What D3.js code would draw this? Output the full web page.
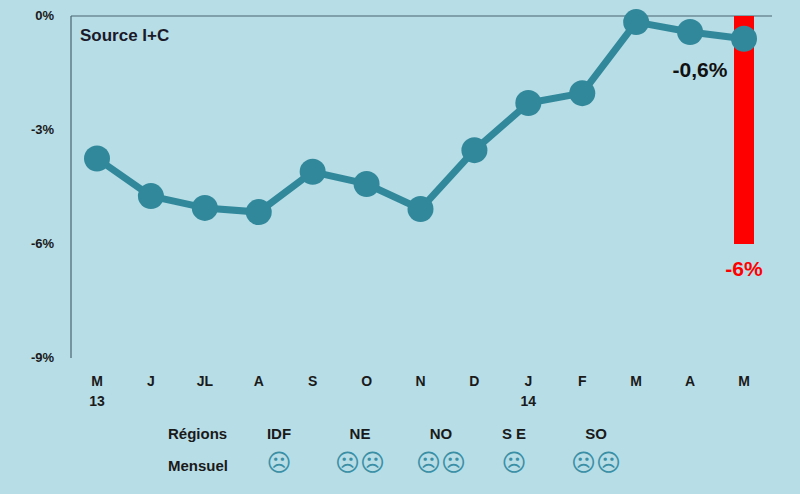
<!DOCTYPE html><html><head><meta charset="utf-8">
<script src="https://cdn.jsdelivr.net/npm/d3@7"></script>
<style>body{margin:0;background:#b7dde7;}svg{display:block;font-family:"Liberation Sans",Arial,sans-serif;font-weight:bold;}</style>
</head><body><svg id="c" width="800" height="494"></svg>
<script>
const months=["M","J","JL","A","S","O","N","D","J","F","M","A","M"];
const years=["13","","","","","","","","14","","","",""];
const values=[-3.75,-4.74,-5.05,-5.16,-4.1,-4.42,-5.08,-3.53,-2.29,-2.03,-0.16,-0.42,-0.6];
const barValue=-6;
const yTicks=[0,-3,-6,-9];
const regions=["IDF","NE","NO","S E","SO"];
const regionFaces=[1,2,2,1,2];
const regionX=[279,360,441,514,596];

const svg=d3.select("#c");
svg.append("rect").attr("width",800).attr("height",494).attr("fill","#b7dde7");
const x=d3.scalePoint().domain(d3.range(months.length)).range([97,744]);
const y=d3.scaleLinear().domain([-9,0]).range([358,16]);

svg.append("line").attr("x1",71).attr("x2",71).attr("y1",16).attr("y2",358).attr("stroke","#4a6470").attr("stroke-width",1.2);
svg.append("line").attr("x1",71).attr("x2",772).attr("y1",16).attr("y2",16).attr("stroke","#4a6470").attr("stroke-width",1.2);
svg.selectAll(".yt").data(yTicks).join("text").attr("x",54).attr("y",d=>y(d)+4).attr("text-anchor","end").attr("font-size",13).attr("fill","#1a1a1a").text(d=>d+"%");

svg.append("rect").attr("x",x(12)-10).attr("width",20).attr("y",y(0)).attr("height",y(barValue)-y(0)).attr("fill","#ff0000");

svg.append("path").datum(values).attr("d",d3.line().x((d,i)=>x(i)).y(d=>y(d))).attr("fill","none").attr("stroke","#31889a").attr("stroke-width",7).attr("stroke-linejoin","round");
svg.selectAll(".pt").data(values).join("circle").attr("cx",(d,i)=>x(i)).attr("cy",d=>y(d)).attr("r",13).attr("fill","#31889a");

svg.append("text").attr("x",80).attr("y",41).attr("font-size",17).attr("fill","#1a1a2a").text("Source I+C");
svg.append("text").attr("x",700).attr("y",77).attr("text-anchor","middle").attr("font-size",21).attr("fill","#111").text("-0,6%");
svg.append("text").attr("x",744).attr("y",276).attr("text-anchor","middle").attr("font-size",21).attr("fill","#ff0000").text("-6%");

svg.selectAll(".mx").data(months).join("text").attr("x",(d,i)=>x(i)).attr("y",386).attr("text-anchor","middle").attr("font-size",14).attr("fill","#1a1a1a").text(d=>d);
svg.selectAll(".yx").data(years).join("text").attr("x",(d,i)=>x(i)).attr("y",406).attr("text-anchor","middle").attr("font-size",14).attr("fill","#1a1a1a").text(d=>d);

svg.append("text").attr("x",168).attr("y",439).attr("font-size",15).attr("fill","#1a1a1a").text("Régions");
svg.append("text").attr("x",168).attr("y",471).attr("font-size",15).attr("fill","#1a1a1a").text("Mensuel");
svg.selectAll(".rg").data(regions).join("text").attr("x",(d,i)=>regionX[i]).attr("y",439).attr("text-anchor","middle").attr("font-size",15).attr("fill","#1a1a1a").text(d=>d);
svg.selectAll(".fc").data(regions).join("text").attr("x",(d,i)=>regionX[i]).attr("y",471).attr("text-anchor","middle").attr("font-size",24).attr("font-weight","normal").attr("fill","#3a8fa5").attr("font-family","DejaVu Sans").text((d,i)=>"☹".repeat(regionFaces[i]));
</script></body></html>
